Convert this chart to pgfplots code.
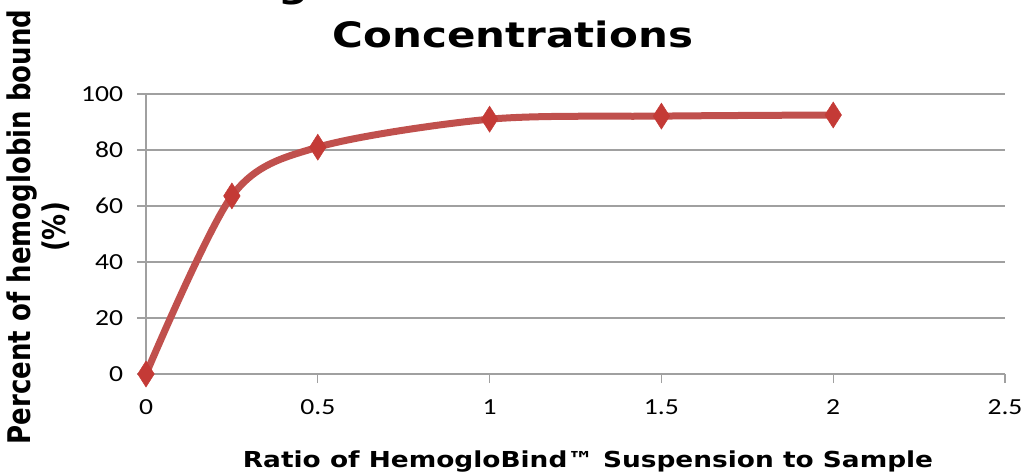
\documentclass[border=0pt]{standalone}
\usepackage{pgfplots}
\pgfplotsset{compat=1.18}
\usepackage{fontspec}
\setmainfont{Carlito}
\newfontfamily\vfont{DejaVu Sans}
\definecolor{exred}{RGB}{192,80,77}
\definecolor{mkred}{RGB}{196,58,54}
\definecolor{gridgray}{RGB}{160,160,160}
\begin{document}
\begin{tikzpicture}
\begin{axis}[
  at={(0,0)}, anchor=south west,
  scale only axis, width=859pt, height=280pt,
  xmin=0, xmax=2.5, ymin=0, ymax=100,
  xtick={0,0.5,1,1.5,2,2.5},
  xticklabels={0,0.5,1,1.5,2,2.5},
  ytick={0,20,40,60,80,100},
  axis x line*=bottom, axis y line*=left,
  axis line style={gridgray, line width=1.2pt, -},
  ymajorgrids, major grid style={gridgray, line width=1.2pt},
  tick style={gridgray, line width=1.2pt},
  tick align=outside, major tick length=9pt,
  xticklabel style={font=\fontsize{23}{26}\selectfont, xscale=1.2, yshift=-13pt},
  yticklabel style={font=\fontsize{23}{26}\selectfont, xscale=1.2, xshift=-8pt},
  /pgf/number format/assume math mode=true,
  clip=false,
]
\addplot[exred, line width=7pt, smooth, tension=0.5,
  mark=diamond*, mark size=13pt,
  mark options={fill=mkred, draw=mkred, line width=0.5pt, xscale=0.85}]
  coordinates {(0,0) (0.25,63.6) (0.5,81) (1,91) (1.5,92.1) (2,92.5)};
\end{axis}
\node[font=\vfont\bfseries\fontsize{35}{40}\selectfont, anchor=base, xscale=1.2] at (367pt,326pt) {Concentrations};
\node[font=\vfont\bfseries\fontsize{35}{40}\selectfont, anchor=base, xscale=1.2] at (367pt,376pt) {Binding Test Results at Different};
\node[font=\vfont\bfseries\fontsize{26}{29}\selectfont, xscale=1.2, rotate=90, align=center] at (-108pt,147pt) {Percent of hemoglobin bound\\(\%)};
\node[font=\vfont\bfseries\fontsize{22}{24}\selectfont, xscale=1.2] at (442pt,-88pt) {Ratio of HemogloBind™ Suspension to Sample};
\pgfresetboundingbox
\path[use as bounding box] (-146pt,-100pt) rectangle (876pt,374pt);
\end{tikzpicture}
\end{document}
